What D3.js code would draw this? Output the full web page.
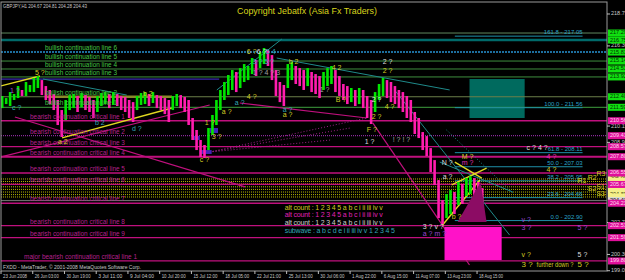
<!DOCTYPE html>
<html>
<head>
<meta charset="utf-8">
<script src="https://cdn.jsdelivr.net/npm/d3@7"></script>
<style>
  body { margin: 0; background: #000; overflow: hidden; }
  svg { display: block; font-family: "Liberation Sans", Arial, sans-serif; }
</style>
</head>
<body>
<div id="chart"></div>
<script>
// ---- data ----
// 8-hour bars (high / low)
const barHigh = [212.46,212.30,212.76,212.61,213.22,212.92,213.53,213.30,213.84,213.99,
  213.68,213.22,212.92,212.61,212.15,211.38,212.15,212.53,212.61,212.46,
  212.69,212.53,212.38,212.15,212.46,212.69,212.76,212.61,212.76,212.61,
  212.46,212.38,212.15,211.99,212.46,212.69,212.76,212.61,212.76,212.53,
  212.46,212.30,212.15,212.46,212.61,212.53,212.38,212.15,210.77,209.85,
  209.08,208.70,210.00,211.00,212.15,212.92,213.53,214.07,214.45,214.30,
  214.60,214.91,214.76,215.37,215.22,215.83,216.14,215.99,215.60,214.45,
  213.53,213.30,214.91,215.07,214.76,214.60,214.45,214.60,214.30,214.14,
  213.99,214.30,214.60,214.76,214.45,213.99,213.38,213.22,213.07,212.92,
  213.07,212.92,212.46,212.15,212.76,213.38,213.84,213.68,213.53,213.22,
  212.92,212.76,212.46,212.15,211.23,210.77,209.69,209.38,208.46,207.54,
  206.01,204.47,204.93,205.24,205.09,205.86,205.71,206.16,206.31,206.16,
  205.86,205.39];
const barLow = [211.53,211.84,211.69,212.15,212.30,212.46,212.46,212.76,212.76,213.07,
  212.53,212.15,211.84,211.38,210.23,209.31,210.61,211.38,211.53,211.23,
  211.61,211.38,211.23,210.77,211.23,211.69,211.84,211.53,211.77,211.69,
  211.38,211.23,210.77,210.46,211.38,211.77,211.84,211.69,211.92,211.53,
  211.38,211.07,210.46,211.38,211.69,211.53,211.23,210.23,209.08,208.31,
  207.77,207.70,208.31,209.46,210.23,211.38,212.15,212.53,212.92,212.76,
  213.07,213.53,213.68,214.14,213.99,214.60,214.91,214.76,213.68,212.46,
  211.99,211.69,213.07,213.68,213.38,213.22,212.92,213.22,212.76,212.61,
  212.30,212.92,213.22,213.38,212.76,212.46,212.15,211.84,211.99,211.69,
  211.84,211.53,210.77,210.31,211.23,212.15,212.46,212.30,211.99,211.84,
  211.53,211.23,210.77,210.46,209.54,209.23,208.31,207.85,206.62,205.62,
  203.09,202.63,203.09,203.40,203.40,204.09,204.17,204.78,204.93,204.78,
  204.47,204.32];

const timeLabels = ["23 Jun 2008","26 Jun 03:00","30 Jun 19:00","3 Jul 11:00","9 Jul 04:00",
  "10 Jul 20:00","15 Jul 12:00","18 Jul 05:00","22 Jul 21:00","25 Jul 13:00","30 Jul 06:00",
  "1 Aug 22:00","6 Aug 15:00","11 Aug 07:00","13 Aug 23:00","18 Aug 15:00"];
const priceTicks = [218.75, 216.30, 210.15, 208.90, 202.75, 200.30, 199.05];

const bullLevels = [217.29, 216.75, 215.83, 215.14, 214.53, 213.92, 212.40, 211.59];
const bullNames = [null, null, "bullish continuation line 6", "bullish continuation line 5",
  "bullish continuation line 4", "bullish continuation line 3", "bullish continuation line 2",
  "bullish continuation line 1"];
const bearLevels = [210.56, 209.41, 208.57, 207.80, 206.55, 205.67, 204.23, 202.51, 201.59, 199.80];
const bearNames = ["bearish continuation critical line 1","bearish continuation critical line 2",
  "bearish continuation critical line 3","bearish continuation critical line 4",
  "bearish continuation critical line 5","bearish continuation critical line 6",
  "bearish continuation critical line 7","bearish continuation critical line 8",
  "bearish continuation critical line 9","major bearish continuation critical line 1"];
const pivotLevels = [206.09, 205.90, 205.71, 205.49, 205.29, 205.09, 204.89, 204.71];
const pivotNames = [["R3",150.1,206.47],["R2",147.9,206.17],["R1",145.3,205.94],
  ["S1",150.1,205.48],["S2",147.9,205.32],["S3",150.1,204.94]];
const bidPrice = 204.43;

const fibLevels = ["161.8","100.0","61.8","50.0","38.2","23.6","0.0"];
const fibPrices = [217.05, 211.56, 208.11, 207.03, 205.95, 204.66, 202.90];
const fibSpan = [114.4, 146.6];

// trend lines: [bar, price, bar, price]
const yellowTrends = [[15.4,209.24,43.1,211.54],[0,213.23,9.8,213.99],[111.3,202.56,120.7,206.01],
  [114.4,207.39,121.2,206.16],[113.6,205.63,122.4,206.93]];
const oliveTrends = [[11.6,212.40,43.1,212.40]];
const purpleTrends = [[0,213.76,55,213.76]];
const tealTrends = [[10.6,213.76,31.7,212.53],[54.4,212.92,70.8,216.83],[69.5,215.37,113.1,212.92],
  [99.2,212.92,128.2,201.79],[110.6,207.39,129,205.09]];
const tealDotted = [[112.3,209.85,129,205.02]];
const magentaTrends = [[0,207.78,52.6,211.77],[3.5,210.85,61.5,205.48],[60.2,211.92,92.2,210.77],
  [93.7,210.39,118.1,199.49]];
const fanLines = [[52.6,208.16,92.2,210.77],[52.6,208.16,88,210.00],[52.6,208.16,83,209.08]];

// zones: [bar0, price0, bar1, price1]
const tealZone = [118.1, 213.76, 132, 210.77];
const targetZone = [111.8, 202.41, 126.2, 199.87];
const wedge = [[115.1,202.79],[120.9,205.86],[122.4,202.79]];
const smallMarks = [[48.4,209.39,50.1,209.08],[50.1,208.31,53.1,208.01],[52.6,210.00,54.7,209.62]];

// wave count labels: [bar, price, text]
const waveYellow = [[8.56,214.22,"5 ?"],[35.77,212.61,"b 2"],[14.36,208.93,"a 2"],[50.13,207.55,"c ?"],
  [51.39,210.39,"1 ?"],[53.15,209.31,"3 ?"],[55.67,211.23,"a ?"],[61.96,212.38,"4 ?"],
  [71.03,211.00,"a ?"],[61.96,215.83,"6 ?"],[72.54,215.07,"b 2"],[83.38,214.61,"4 2"],
  [84.38,212.15,"B ?"],[96.22,214.38,"2 ?"],[96.73,211.61,"4 ?"],[93.45,210.85,"2 ?"],
  [92.19,209.85,"F ?"],[137.53,206.78,"4 ?"],[116.12,207.78,"M ?"],[113.6,203.17,"b ?"],
  [131.23,200.26,"v ?"]];
const waveBottom = [[131.23,199.49,"3 ?"],[135.01,199.49,"further down ?"],[145.34,199.49,"5 ?"]];
const waveTeal = [[23.68,210.39,"b 2"],[33.0,209.93,"d ?"],[2.77,211.54,"c ?"],[58.94,211.92,"a ?"],
  [71.03,211.38,"a ?"],[63.48,215.07,"3 ? 5 ?"],[66.75,215.83,"5 4"]];
const waveWhite = [[64.48,215.83,"6 ?"],[96.22,215.07,"2 ?"],[93.45,212.15,"2 ?"],[91.69,208.93,"1 ?"],
  [132.49,208.47,"c ? 4 ?"],[111.08,207.32,"N ?"],[111.34,206.24,"a ?"],[106.3,202.41,"3 ? v ?"],
  [145.34,200.26,"5 ?"]];
const waveMagenta = [[137.53,207.78,"4 ?"],[116.12,207.32,"m ?"]];
const wavePurple = [[2.27,212.84,"1 ?"],[131.23,202.94,"v ?"],[131.23,202.33,"3 ?"],
  [145.34,202.33,"5 ?"],[106.3,201.87,"a ? m ?"]];
const waveGray = [[63.48,214.22,"1 ? 4 ? 3"],[80.35,212.92,"1 ?"],[98.74,209.08,"! ? ! ?"]];

const legendText = ["alt count : 1 2 3 4 5 a b c i ii iii iv v","alt count : 1 2 3 4 5 a b c i ii iii iv v",
  "alt count : 1 2 3 4 5 a b c i ii iii iv v","subwave : a b c d e i ii iii iv v 1 2 3 4 5"];
const legendAnchor = [71.54, [203.87, 203.33, 202.71, 202.10]];

// ---- drawing ----
const width = 625, height = 280;
const plot = {left: 1, right: 607, top: 2, bottom: 271};

const x = d3.scaleLinear().domain([0, 152]).range([1, 604]);
const y = d3.scaleLinear().domain([199.03, 219.44]).range([271, 5]);

const svg = d3.select("#chart").append("svg")
  .attr("width", width).attr("height", height)
  .style("background", "#000");

svg.append("clipPath").attr("id", "clip")
  .append("rect").attr("x", plot.left).attr("y", plot.top)
  .attr("width", plot.right - plot.left).attr("height", plot.bottom - plot.top);

const g = svg.append("g").attr("clip-path", "url(#clip)");

function hline(price, color, w, dash, from, to) {
  g.append("line")
    .attr("x1", from === undefined ? plot.left : x(from))
    .attr("x2", to === undefined ? plot.right : x(to))
    .attr("y1", y(price)).attr("y2", y(price))
    .attr("stroke", color).attr("stroke-width", w)
    .attr("stroke-dasharray", dash || null);
}
function segs(list, color, w, dash) {
  g.append("g").selectAll("line").data(list).join("line")
    .attr("x1", d => x(d[0])).attr("y1", d => y(d[1]))
    .attr("x2", d => x(d[2])).attr("y2", d => y(d[3]))
    .attr("stroke", color).attr("stroke-width", w)
    .attr("stroke-dasharray", dash || null);
}
function labels(list, color, size) {
  g.append("g").selectAll("text").data(list).join("text")
    .attr("x", d => x(d[0])).attr("y", d => y(d[1]))
    .attr("dominant-baseline", "middle")
    .attr("fill", color).attr("font-size", size || 7)
    .text(d => d[2]);
}

// teal zone under the lines
g.append("rect")
  .attr("x", x(tealZone[0])).attr("y", y(tealZone[1]))
  .attr("width", x(tealZone[2]) - x(tealZone[0]))
  .attr("height", y(tealZone[3]) - y(tealZone[1]))
  .attr("fill", "#006a5e");

// horizontal levels
const bullStyle = [["#5f8a5f",1],["#006a6a",2.5],["#1d6e9e",2],["#3f8f3f",1],["#3f8f3f",1],["#3f8f3f",1],["#6b7f4a",1],["#3f9f3f",1]];
bullLevels.forEach((p, i) => hline(p, bullStyle[i][0], bullStyle[i][1], i === 2 ? "2,1" : null));
hline(purpleTrends[0][1], "#3a28b0", 1.2, null, purpleTrends[0][0], purpleTrends[0][2]);
pivotLevels.forEach((p, i) => hline(p, i === 2 ? "#ff8c00" : "#b8b800", 1, "1,1"));
hline(bidPrice, "#7a7a7a", 1);
bearLevels.forEach((p, i) => hline(p, i === 1 ? "#8a2a9a" : "#c0107e", i === 3 ? 2 : 1.3, i === 1 ? "1,1" : null));

// fib levels
fibPrices.forEach((p, i) => {
  hline(p, "#1f8fa8", 1, null, fibSpan[0], fibSpan[1]);
  g.append("text").attr("x", x(fibSpan[1])).attr("y", y(p) - 2)
    .attr("text-anchor", "end").attr("fill", "#2aa4c8").attr("font-size", 6)
    .text(fibLevels[i] + " - " + p.toFixed(2));
});

// trend lines
segs(magentaTrends, "#c0107e", 1.2);
segs(fanLines, "#a0208a", 1, "1,2");
segs(tealTrends, "#1f8a8a", 1);
segs(tealDotted, "#1f8a8a", 1, "1,2");
segs(oliveTrends, "#8a8a2a", 2.5);
segs(yellowTrends, "#e0d820", 1.4);

// small marks
g.append("g").selectAll("rect").data(smallMarks).join("rect")
  .attr("x", d => x(d[0])).attr("y", d => y(d[1]))
  .attr("width", d => x(d[2]) - x(d[0])).attr("height", d => y(d[3]) - y(d[1]))
  .attr("fill", "#4424b8");

// price bars
g.append("g").selectAll("line").data(barHigh).join("line")
  .attr("x1", (d, i) => x(i + 0.3)).attr("x2", (d, i) => x(i + 0.3))
  .attr("y1", d => y(d)).attr("y2", (d, i) => y(barLow[i]))
  .attr("stroke", (d, i) => (i === 0 || d + barLow[i] >= barHigh[i - 1] + barLow[i - 1]) ? "#00e600" : "#ff1cae")
  .attr("stroke-width", 2.6);

// wedge and target zone over bars
g.append("polygon")
  .attr("points", wedge.map(d => [x(d[0]), y(d[1])].join(",")).join(" "))
  .attr("fill", "#8c0c64");
g.append("rect")
  .attr("x", x(targetZone[0])).attr("y", y(targetZone[1]))
  .attr("width", x(targetZone[2]) - x(targetZone[0]))
  .attr("height", y(targetZone[3]) - y(targetZone[1]))
  .attr("fill", "#ff12c8");

// line names
bullLevels.forEach((p, i) => {
  if (!bullNames[i]) return;
  g.append("text").attr("x", x(11.1)).attr("y", y(p) - 2)
    .attr("fill", "#44c444").attr("font-size", 7)
    .attr("textLength", 72).attr("lengthAdjust", "spacingAndGlyphs")
    .text(bullNames[i]);
});
bearLevels.forEach((p, i) => {
  const major = i === bearLevels.length - 1;
  g.append("text").attr("x", x(major ? 5.8 : 7.3)).attr("y", y(p) - 2)
    .attr("fill", "#b8208e").attr("font-size", 7)
    .attr("textLength", major ? 113 : 95).attr("lengthAdjust", "spacingAndGlyphs")
    .text(bearNames[i]);
});

// wave labels
labels(waveYellow, "#d4cc22");
g.append("g").selectAll("text").data(waveBottom).join("text")
  .attr("x", d => x(d[0])).attr("y", d => y(d[1])).attr("dominant-baseline", "middle")
  .attr("fill", "#d4cc22").attr("font-size", (d, i) => i === 1 ? 6.5 : 8)
  .attr("textLength", (d, i) => i === 1 ? 37 : null).attr("lengthAdjust", "spacingAndGlyphs")
  .text(d => d[2]);
labels(waveTeal, "#34a8b8");
labels(waveWhite, "#dcdcdc");
labels(waveMagenta, "#e030b0");
labels(wavePurple, "#9a48d0");
labels(waveGray, "#a0a0a0");
labels(pivotNames.map(d => [d[1], d[2], d[0]]), "#d4cc22", 7);

// legend
const legendColors = ["#d4cc22", "#e020b8", "#d0d0d0", "#34a8b8"];
legendText.forEach((t, i) => {
  g.append("text").attr("x", x(legendAnchor[0])).attr("y", y(legendAnchor[1][i]))
    .attr("dominant-baseline", "middle").attr("fill", legendColors[i]).attr("font-size", 7)
    .attr("textLength", i === 3 ? 110 : 98).attr("lengthAdjust", "spacing")
    .text(t);
});

// header, title, footer
svg.append("text").attr("x", 3).attr("y", 8).attr("fill", "#c8c8c8").attr("font-size", 6)
  .attr("textLength", 84).attr("lengthAdjust", "spacingAndGlyphs")
  .text("GBPJPY,H1  204.67 204.81 204.28 204.43");
svg.append("text").attr("x", 307).attr("y", 14).attr("text-anchor", "middle")
  .attr("fill", "#d8d41c").attr("font-size", 9)
  .attr("textLength", 140).attr("lengthAdjust", "spacingAndGlyphs")
  .text("Copyright Jebatfx (Asia Fx Traders)");
svg.append("text").attr("x", 3).attr("y", 269).attr("fill", "#c8c8c8").attr("font-size", 6)
  .attr("textLength", 138).attr("lengthAdjust", "spacingAndGlyphs")
  .text("FXDD - MetaTrader, \u00a9 2001-2008 MetaQuotes Software Corp.");

// frame
svg.append("rect").attr("x", plot.left).attr("y", plot.top)
  .attr("width", plot.right - plot.left).attr("height", plot.bottom - plot.top)
  .attr("fill", "none").attr("stroke", "#9a9a9a").attr("stroke-width", 1);

// right price axis
const ax = svg.append("g");
ax.selectAll("line.t").data(priceTicks).join("line")
  .attr("x1", plot.right).attr("x2", plot.right + 3)
  .attr("y1", d => y(d)).attr("y2", d => y(d)).attr("stroke", "#c0c0c0");
ax.selectAll("text.t").data(priceTicks).join("text")
  .attr("x", plot.right + 4).attr("y", d => y(d)).attr("dominant-baseline", "middle")
  .attr("fill", "#c8c8c8").attr("font-size", 5.5).text(d => d.toFixed(2));

function axisBox(p, fill, ink, showText) {
  ax.append("rect").attr("x", plot.right + 1).attr("y", y(p) - 3.5)
    .attr("width", 20).attr("height", 7).attr("fill", fill);
  if (showText) {
    ax.append("text").attr("x", plot.right + 3).attr("y", y(p)).attr("dominant-baseline", "middle")
      .attr("fill", ink).attr("font-size", 5.5).text(p.toFixed(2));
  }
}
bullLevels.forEach(p => axisBox(p, "#10e010", "#003300", true));
pivotLevels.forEach((p, i) => axisBox(p, "#f4f08a", "#333300", i % 3 === 0));
axisBox(bidPrice, "#d8d8d8", "#000", true);
bearLevels.forEach(p => axisBox(p, "#e0109a", "#ffd8f0", true));

// time axis
svg.append("g").selectAll("line").data(timeLabels).join("line")
  .attr("x1", (d, i) => x(i * 8)).attr("x2", (d, i) => x(i * 8))
  .attr("y1", plot.bottom).attr("y2", plot.bottom + 3).attr("stroke", "#c0c0c0");
svg.append("g").selectAll("text").data(timeLabels).join("text")
  .attr("x", (d, i) => x(i * 8) + 2).attr("y", 278)
  .attr("fill", "#c8c8c8").attr("font-size", 5.5)
  .attr("textLength", 24).attr("lengthAdjust", "spacingAndGlyphs")
  .text(d => d);
</script>
</body>
</html>
